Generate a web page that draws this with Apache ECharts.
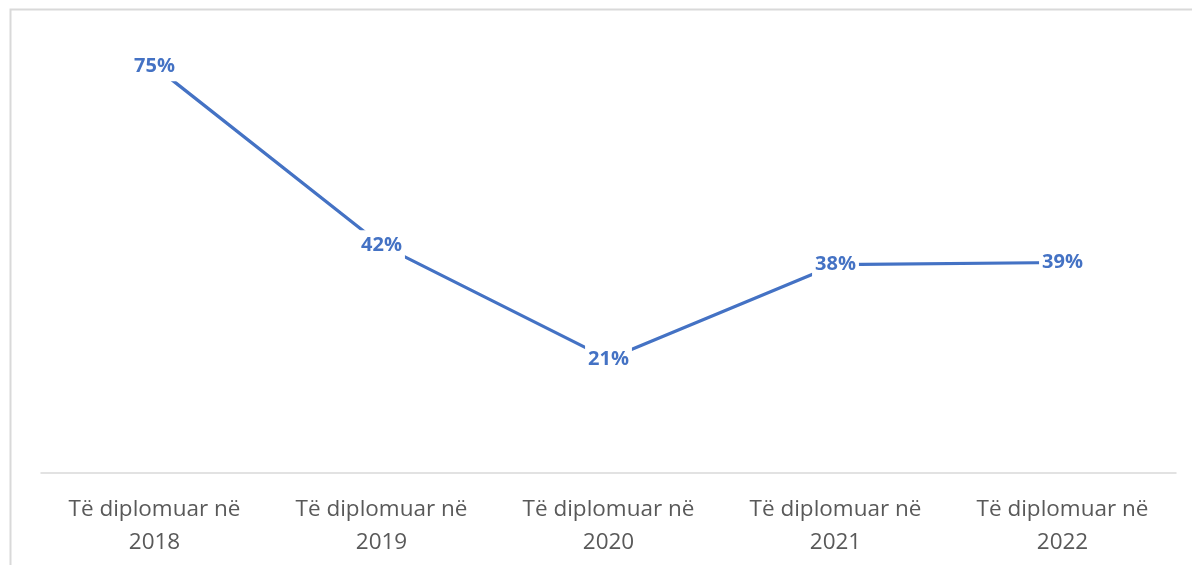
<!DOCTYPE html>
<html>
<head>
<meta charset="utf-8">
<script src="https://cdn.jsdelivr.net/npm/echarts@6/dist/echarts.min.js"></script>
<style>
html,body{margin:0;padding:0;background:#fff;}
#chart{width:1192px;height:565px;}
</style>
</head>
<body>
<div id="chart"></div>
<script>
const categories = ["Të diplomuar në\n2018", "Të diplomuar në\n2019", "Të diplomuar në\n2020", "Të diplomuar në\n2021", "Të diplomuar në\n2022"];
const values = [75, 42, 21, 38.4, 38.8];

const chart = echarts.init(document.getElementById('chart'), null, {renderer: 'canvas'});
chart.setOption({
  animation: false,
  backgroundColor: '#ffffff',
  graphic: [{
    type: 'rect',
    shape: {x: 10.5, y: 9.5, width: 1250, height: 700},
    style: {fill: 'none', stroke: '#d9d9d9', lineWidth: 2},
    silent: true
  }],
  grid: {left: 41, right: 16, top: 39, bottom: 92},
  xAxis: {
    type: 'category',
    data: categories,
    boundaryGap: true,
    axisLine: {lineStyle: {color: '#d9d9d9', width: 1.5}},
    axisTick: {show: false},
    axisLabel: {
      color: '#595959',
      fontFamily: 'Open Sans',
      fontSize: 22.5,
      lineHeight: 33,
      margin: 20,
      interval: 0
    }
  },
  yAxis: {
    type: 'value',
    min: 0,
    max: 80,
    show: false,
    splitLine: {show: false}
  },
  series: [{
    type: 'line',
    data: values,
    symbol: 'circle',
    symbolSize: 0,
    showSymbol: true,
    lineStyle: {color: '#4472C4', width: 3.2},
    itemStyle: {color: '#4472C4'},
    labelLayout: {hideOverlap: false},
    label: {
      show: true,
      position: 'inside',
      formatter: p => Math.round(p.value) + '%',
      color: '#4472C4',
      fontFamily: 'Open Sans',
      fontWeight: 'bold',
      fontSize: 20,
      backgroundColor: '#ffffff',
      padding: [5, 3]
    }
  }]
});
</script>
</body>
</html>
